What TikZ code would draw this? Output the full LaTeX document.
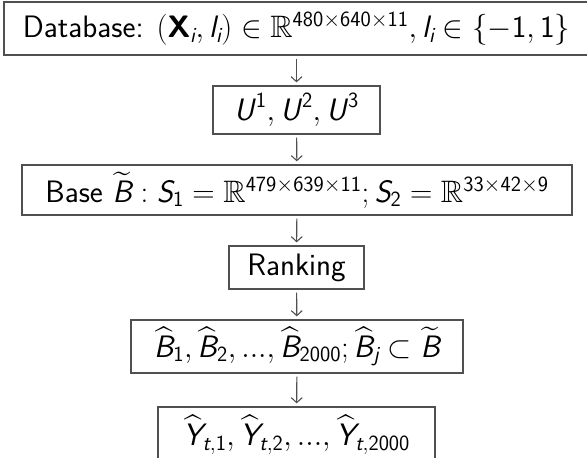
\RequirePackage{fix-cm}
\documentclass[tikz,border=0pt]{standalone}
\usepackage{amsmath,amssymb}
\DeclareFontFamily{U}{msb}{}
\DeclareFontShape{U}{msb}{m}{n}{<-6>msbm5<6-8>msbm7<8->msbm10}{}
\usetikzlibrary{arrows.meta}
\definecolor{edge}{HTML}{505050}
\newcommand{\vi}[1]{\text{\sffamily\itshape #1}}
\newcommand{\vs}[1]{\text{\sffamily\itshape #1\/}}
\newcommand{\vn}[1]{\text{\sffamily #1}}
\newcommand{\vb}[1]{\text{\sffamily\bfseries #1}}
\tikzset{
  box/.style={draw=edge, line width=1.3pt, inner sep=0pt, text=black,
    font=\fontsize{31}{36}\selectfont\sffamily},
  flow/.style={draw=edge, line width=1.1pt, -{Straight Barb[length=5pt,width=11pt]},
    shorten <=3pt, shorten >=3pt}
}
\begin{document}
\begin{tikzpicture}[x=1pt,y=-1pt]
\useasboundingbox (0,0) rectangle (587,458);
\node[box, minimum width=585pt, minimum height=53pt] (db) at (296.5,28.5)
  {Database: $(\vb{X}_{\vi{i}}, \vi{l}_{\vi{i}}) \in \mathbb{R}^{\vn{480}\times\vn{640}\times\vn{11}}, \vi{l}_{\vi{i}} \in \{-\vn{1},\vn{1}\}$};
\node[box, minimum width=167pt, minimum height=48pt] (u) at (296.5,110)
  {$\vs{U}^{\vn{1}}, \vs{U}^{\vn{2}}, \vs{U}^{\vn{3}}$};
\node[box, minimum width=550pt, minimum height=50pt] (base) at (297,190)
  {Base $\widetilde{\vi{B}} : \vi{S}_{\vn{1}} = \mathbb{R}^{\vn{479}\times\vn{639}\times\vn{11}}; \vi{S}_{\vn{2}} = \mathbb{R}^{\vn{33}\times\vn{42}\times\vn{9}}$};
\node[box, minimum width=135pt, minimum height=43pt] (rank) at (296.5,267.5)
  {Ranking};
\node[box, minimum width=332pt, minimum height=53pt] (bh) at (297,346.5)
  {$\widehat{\vi{B}}_{\vn{1}}, \widehat{\vi{B}}_{\vn{2}}, ..., \widehat{\vi{B}}_{\vn{2000}}; \widehat{\vi{B}}_{\vi{j}} \subset \widetilde{\vi{B}}$};
\node[box, minimum width=277pt, minimum height=56pt] (yh) at (296.5,435)
  {$\widehat{\vi{Y}}_{\vi{t},\vn{1}}, \widehat{\vi{Y}}_{\vi{t},\vn{2}}, ..., \widehat{\vi{Y}}_{\vi{t},\vn{2000}}$};
\draw[flow] (db) -- (u);
\draw[flow] (u) -- (base);
\draw[flow] (base) -- (rank);
\draw[flow] (rank) -- (bh);
\draw[flow] (bh) -- (yh);
\end{tikzpicture}
\end{document}
